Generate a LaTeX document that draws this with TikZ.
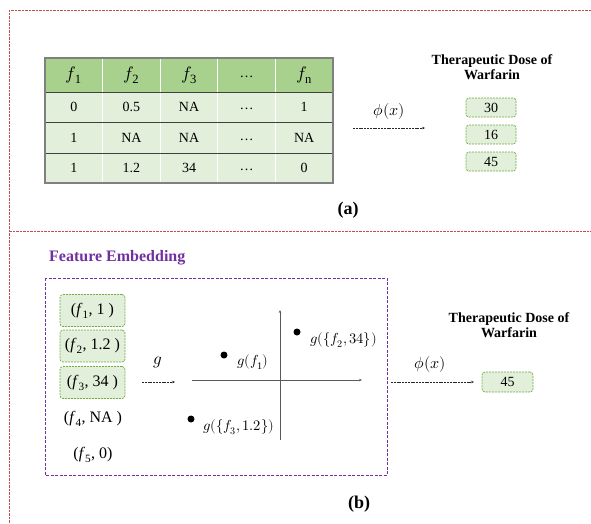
\documentclass[tikz,border=0pt]{standalone}
\usepackage{unicode-math}
\setmainfont{Liberation Serif}
\setmathfont{Latin Modern Math}
\usetikzlibrary{arrows.meta}
\definecolor{frame}{HTML}{C0504D}
\definecolor{purp}{HTML}{7030A0}
\definecolor{hdr}{HTML}{A9D18E}
\definecolor{rowc}{HTML}{E2EFDA}
\definecolor{boxborder}{HTML}{70AD47}
\definecolor{axisc}{HTML}{595959}
\tikzset{
  framedash/.style={draw=frame, line width=0.9pt, dash pattern=on 2.5pt off 1pt},
  purpdash/.style={draw=purp, line width=0.8pt, dash pattern=on 3pt off 1.5pt},
  dasharrow/.style={draw=black!85, line width=0.6pt, dash pattern=on 2pt off 0.8pt, -{Stealth[length=3pt,width=2.5pt]}},
  axisarrow/.style={draw=axisc, line width=1pt, -{Stealth[length=3pt,width=2.5pt]}},
  greenbox/.style={draw=boxborder, fill=rowc, rounded corners=3pt, line width=0.7pt, dash pattern=on 2pt off 1pt, inner sep=0pt},
  cell/.style={font=\fontsize{14}{16}\selectfont, inner sep=0pt},
  hcell/.style={font=\fontsize{18}{20}\selectfont, inner sep=0pt},
  title/.style={font=\fontsize{14}{15.5}\selectfont\bfseries, align=center, inner sep=0pt},
  pairtext/.style={font=\fontsize{16}{18}\selectfont, inner sep=0pt},
  dot/.style={circle, fill=black, inner sep=0pt, minimum size=7pt},
  dotlabel/.style={font=\fontsize{14.5}{16}\selectfont, inner sep=0pt, anchor=west},
  caplabel/.style={font=\fontsize{18}{20}\selectfont\bfseries, inner sep=0pt},
}
\begin{document}
\begin{tikzpicture}[x=1pt,y=-1pt]
\useasboundingbox (0,0) rectangle (591,523);
% outer frame
\draw[framedash] (591,10) -- (9,10) -- (9,523);
\draw[framedash] (9,231) -- (591,231);
% ---------- (a) table ----------
\fill[hdr] (45,58) rectangle (333,92);
\fill[rowc] (45,92) rectangle (333,183);
\foreach \x in {102.6,160.2,217.8,275.4} \draw[white, line width=0.8pt] (\x,58) -- (\x,183);
\foreach \y in {92,122,153} \draw[black!75, line width=0.9pt] (45,\y) -- (333,\y);
\draw[black!50, line width=1.2pt] (45,58) rectangle (333,183);
\node[hcell] (h1) at (73.8,75) {$f_{\mathrm{1}}$};
\node[hcell] (h2) at (131.4,75) {$f_{\mathrm{2}}$};
\node[hcell] (h3) at (189,75) {$f_{\mathrm{3}}$};
\node[cell] (h4) at (246.6,77) {\dots};
\node[hcell] (h5) at (304.2,75) {$f_{\mathrm{n}}$};
\node[cell] (r11) at (73.8,107) {0};
\node[cell] (r12) at (131.4,107) {0.5};
\node[cell] (r13) at (189,107) {NA};
\node[cell] (r14) at (246.6,109) {\dots};
\node[cell] (r15) at (304.2,107) {1};
\node[cell] (r21) at (73.8,137.5) {1};
\node[cell] (r22) at (131.4,137.5) {NA};
\node[cell] (r23) at (189,137.5) {NA};
\node[cell] (r24) at (246.6,139.5) {\dots};
\node[cell] (r25) at (304.2,137.5) {NA};
\node[cell] (r31) at (73.8,168) {1};
\node[cell] (r32) at (131.4,168) {1.2};
\node[cell] (r33) at (189,168) {34};
\node[cell] (r34) at (246.6,170) {\dots};
\node[cell] (r35) at (304.2,168) {0};
% phi arrow (a)
\coordinate (pa1) at (353,128);
\coordinate (pa2) at (425,128);
\draw[dasharrow] (pa1) -- (pa2);
\node[font=\fontsize{16}{18}\selectfont, inner sep=0pt] (phia) at (389,111) {$\phi(x)$};
% doses (a)
\node[title] (titlea) at (492,67) {Therapeutic Dose of\\Warfarin};
\node[greenbox, minimum width=50pt, minimum height=19pt, font=\fontsize{14}{16}\selectfont] (d1) at (491,107.5) {30};
\node[greenbox, minimum width=50pt, minimum height=19pt, font=\fontsize{14}{16}\selectfont] (d2) at (491,134.5) {16};
\node[greenbox, minimum width=50pt, minimum height=19pt, font=\fontsize{14}{16}\selectfont] (d3) at (491,161.5) {45};
\node[caplabel] (capa) at (348,210) {(a)};
% ---------- (b) ----------
\node[font=\fontsize{16}{18}\selectfont\bfseries, text=purp, anchor=west, inner sep=0pt] (fe) at (49,258) {Feature Embedding};
\draw[purpdash] (45,278) rectangle (387,475);
\node[greenbox, minimum width=65pt, minimum height=32pt, pairtext] (p1) at (92.5,310.5) {(\textit{f}\textsubscript{1}, 1 )};
\node[greenbox, minimum width=65pt, minimum height=32pt, pairtext] (p2) at (92.5,346) {(\textit{f}\textsubscript{2}, 1.2 )};
\node[greenbox, minimum width=65pt, minimum height=32pt, pairtext] (p3) at (92.5,382.5) {(\textit{f}\textsubscript{3}, 34 )};
\node[pairtext] (p4) at (93,419) {(\textit{f}\textsubscript{4}, NA )};
\node[pairtext] (p5) at (93,455) {(\textit{f}\textsubscript{5}, 0)};
% g arrow
\coordinate (ga1) at (142,382);
\coordinate (ga2) at (175,382);
\draw[dasharrow] (ga1) -- (ga2);
\node[font=\fontsize{17}{19}\selectfont, inner sep=0pt] (glab) at (158,362) {$g$};
% axes
\coordinate (xa1) at (192,380);
\coordinate (xa2) at (362,380);
\coordinate (ya1) at (280,440);
\coordinate (ya2) at (280,310);
\draw[axisarrow] (xa1) -- (xa2);
\draw[axisarrow] (ya1) -- (ya2);
% dots
\node[dot] (dt1) at (224,355) {};
\node[dot] (dt2) at (297,332) {};
\node[dot] (dt3) at (191,419) {};
\node[dotlabel] (lb1) at (237,362) {$g(f_{\mathrm{1}})$};
\node[dotlabel] (lb2) at (310,340) {$g(\{f_2,34\})$};
\node[dotlabel] (lb3) at (203,427) {$g(\{f_3,1.2\})$};
% phi arrow (b)
\coordinate (pb1) at (391,382);
\coordinate (pb2) at (474,382);
\draw[dasharrow] (pb1) -- (pb2);
\node[font=\fontsize{16}{18}\selectfont, inner sep=0pt] (phib) at (430,364) {$\phi(x)$};
\node[title] (titleb) at (509,325) {Therapeutic Dose of\\Warfarin};
\node[greenbox, minimum width=51pt, minimum height=20pt, font=\fontsize{14}{16}\selectfont] (d4) at (507.5,382) {45};
\node[caplabel] (capb) at (359,504) {(b)};
\end{tikzpicture}
\end{document}
